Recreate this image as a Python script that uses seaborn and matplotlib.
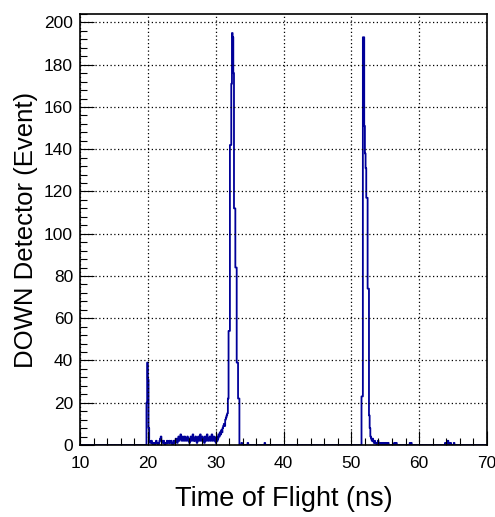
import numpy as np
import matplotlib
matplotlib.use("Agg")
import matplotlib.pyplot as plt
from matplotlib.ticker import MultipleLocator
import seaborn as sns

# Time-of-flight histogram, 0.1 ns bins
bin_width = 0.1

# first region: small spike at 20 ns, background, and the big peak near 32.5 ns
start_a = 19.8
counts_a = [20, 39, 31, 8, 2, 1, 1, 2, 1, 0,
            1, 1, 0, 1, 2, 1, 1, 0, 1, 2,
            3, 4, 2, 1, 1, 2, 1, 0, 1, 1,
            2, 1, 1, 2, 1, 1, 2, 1, 0, 1,
            2, 1, 2, 3, 2, 1, 3, 4, 2, 3,
            5, 3, 2, 4, 3, 2, 4, 3, 2, 3,
            4, 2, 3, 1, 3, 4, 2, 3, 5, 2,
            3, 2, 4, 3, 1, 3, 4, 2, 3, 5,
            2, 3, 4, 2, 3, 1, 4, 3, 2, 5,
            3, 2, 3, 4, 2, 3, 5, 2, 3, 4,
            2, 3, 1, 4, 2, 3, 5, 4, 6, 5,
            7, 6, 8, 9, 10, 9, 12, 13, 14, 15,
            22, 54, 54, 142, 142, 171, 195, 193, 176, 112,
            112, 84, 84, 39, 39, 22, 22]

# second peak near 52 ns and its tail
start_b = 51.5
counts_b = [23, 23, 193, 193, 151, 138, 131, 117, 117, 74,
            74, 14, 8, 4, 3, 2, 3, 2, 1, 2,
            1, 1, 0, 1, 2, 1, 0, 1, 1, 0,
            1, 0, 1, 0, 1, 1, 0, 1, 0, 1]

# isolated single counts
extra_times = [33.8, 34.7, 37.2, 56.3, 56.6, 58.6, 58.8, 63.8, 64.0, 64.2, 64.4, 64.6, 65.1]
extra_counts = [1, 1, 1, 1, 1, 1, 1, 1, 1, 2, 1, 1, 1]

x_ticks = [10, 20, 30, 40, 50, 60, 70]
y_ticks = [0, 20, 40, 60, 80, 100, 120, 140, 160, 180, 200]

# bin centres and weights
times = np.concatenate([
    start_a + bin_width * (np.arange(len(counts_a)) + 0.5),
    start_b + bin_width * (np.arange(len(counts_b)) + 0.5),
    np.array(extra_times) + bin_width / 2,
])
weights = np.concatenate([counts_a, counts_b, extra_counts])

sns.set_style("white")
plt.rcParams['font.family'] = ['Liberation Sans', 'DejaVu Sans']
plt.rcParams['text.color'] = 'black'
plt.rcParams['axes.labelcolor'] = 'black'

fig = plt.figure(figsize=(4.95, 5.17), dpi=100)
ax = fig.add_axes([80 / 495, 1 - 445 / 517, 407 / 495, 431 / 517])

sns.histplot(x=times, weights=weights, binwidth=bin_width, binrange=(10, 70),
             element="step", fill=False, color="#000099", linewidth=1.3, ax=ax)

ax.set_xlim(10, 70)
ax.set_ylim(0, 204)
ax.set_xticks(x_ticks)
ax.set_yticks(y_ticks)
ax.xaxis.set_minor_locator(MultipleLocator(2))
ax.yaxis.set_minor_locator(MultipleLocator(4))
ax.grid(True, which="major", color="black", linestyle=(0, (1, 2)), linewidth=0.9)
ax.set_axisbelow(False)

for s in ax.spines.values():
    s.set_color("black")
    s.set_linewidth(1.2)

ax.tick_params(axis="both", which="major", direction="in", length=10, width=0.8,
               color="black", labelsize=12.5, labelcolor="black")
ax.tick_params(axis="both", which="minor", direction="in", length=5, width=0.8, color="black")
ax.tick_params(axis="x", which="both", bottom=True, top=False, pad=8)
ax.tick_params(axis="y", which="both", left=True, right=False, pad=5)

ax.set_xlabel("Time of Flight (ns)", fontsize=19.5, labelpad=11, color="black")
ax.set_ylabel("DOWN Detector (Event)", fontsize=18.5, labelpad=4, color="black")

fig.savefig("out.png", dpi=100)
